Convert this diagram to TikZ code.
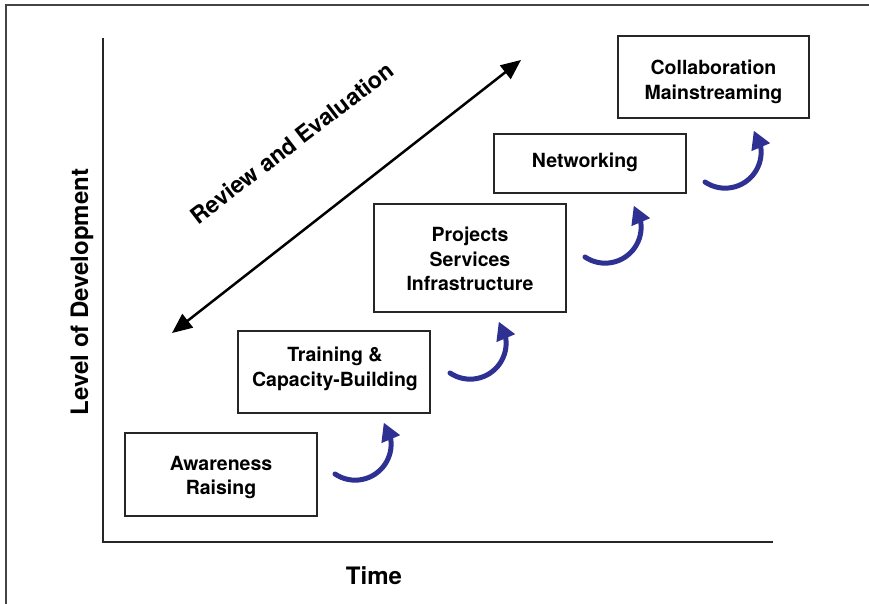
\documentclass[tikz,border=0pt]{standalone}
\usepackage{fontspec}
\setmainfont{TeX Gyre Heros}
\usetikzlibrary{arrows.meta}
\definecolor{arrowblue}{HTML}{2E3192}
\definecolor{framegray}{HTML}{444444}
\begin{document}
\begin{tikzpicture}[x=1pt,y=1pt,
  stagebox/.style={draw=black!85, line width=1.2pt, inner sep=0pt, minimum width=192pt},
  stagetext/.style={align=center, inner sep=1pt,
    font=\fontsize{19.5}{24.5}\selectfont\bfseries},
  curvy/.style={draw=arrowblue, line width=5pt, line cap=round,
    -{Triangle[length=18pt,width=19pt]}},
  review/.style={line width=2.5pt, {Triangle[length=20pt,width=17pt]}-{Triangle[length=20pt,width=17pt]}},
  axis/.style={line width=1.4pt, draw=black!85},
  biglabel/.style={font=\fontsize{24}{28}\selectfont\bfseries}
]
\useasboundingbox (0,0) rectangle (869,-604);
% outer frame (cut by the page edges)
\draw[framegray, line width=1.4pt] (869,-5) -- (6,-5) -- (6,-604);
% axes
\coordinate (ytop) at (103,-38);
\coordinate (orig) at (103,-542);
\coordinate (xend) at (773,-542);
\draw[axis] (ytop) -- (orig) -- (xend);
\node[biglabel, rotate=90] (ylab) at (82,-292) {Level of Development};
\node[biglabel] (xlab) at (374,-576) {Time};
% stage boxes
\node[stagebox, minimum height=83pt] (aw) at (221,-474.5) {};
\node[stagetext] (awt) at ([yshift=-3pt]aw.center) {Awareness\\Raising};
\node[stagebox, minimum height=82pt] (tr) at (334,-372) {};
\node[stagetext] (trt) at ([xshift=1pt,yshift=3pt]tr.center) {Training \&\\Capacity-Building};
\node[stagebox, minimum height=108pt] (pr) at (470,-258) {};
\node[stagetext] (prt) at ([yshift=-1pt]pr.center) {Projects\\Services\\Infrastructure};
\node[stagebox, minimum height=59pt] (nw) at (590,-163.5) {};
\node[stagetext] (nwt) at ([xshift=-5pt,yshift=1pt]nw.center) {Networking};
\node[stagebox, minimum height=82pt, minimum width=191pt] (co) at (713.5,-77) {};
\node[stagetext] (cot) at ([yshift=-5pt]co.center) {Collaboration\\Mainstreaming};
% review and evaluation
\coordinate (rvA) at (172,-333);
\coordinate (rvB) at (521,-60);
\draw[review] (rvA) -- (rvB);
\node[biglabel, font=\fontsize{23}{27}\selectfont\bfseries, rotate=37.5] (rvlab) at (292,-143) {Review and Evaluation};
% curved progress arrows
\coordinate (c1) at (335,-474);
\coordinate (c2) at (450,-373);
\coordinate (c3) at (585,-257);
\coordinate (c4) at (705,-182);
\foreach \c in {c1,c2,c3,c4}{
  \draw[curvy] (\c) arc[start angle=236, end angle=368, radius=36] -- ++(113:18);
}
\end{tikzpicture}
\end{document}
